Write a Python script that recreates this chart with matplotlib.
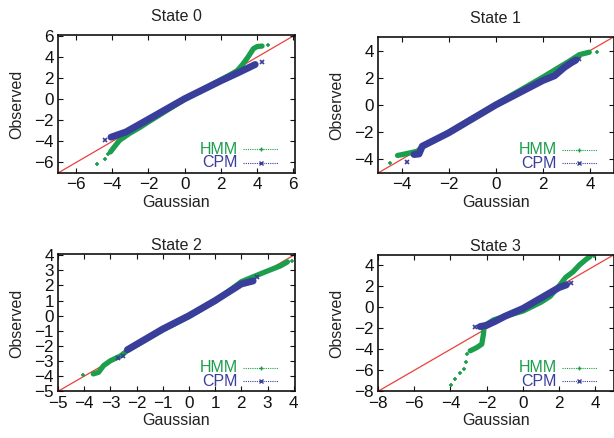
import matplotlib
matplotlib.use("Agg")
import matplotlib.pyplot as plt

plt.rcParams['font.family'] = ['Liberation Sans', 'DejaVu Sans']

# ---------------- data ----------------
titles = ["State 0", "State 1", "State 2", "State 3"]
legend_labels = ["HMM", "CPM"]

# State 0
s0_hmm_x = [-4.1, -3.9, -3.6, -3.05, -2.5, -2.0, 0.0, 2.0, 2.6, 2.9, 3.2, 3.5, 3.8, 4.0, 4.28]
s0_hmm_y = [-5.0, -4.55, -3.9, -3.25, -2.7, -2.15, 0.0, 1.85, 2.4, 2.7, 3.3, 4.0, 4.8, 5.0, 5.05]
s0_hmm_tail_x = [-4.83, -4.39, -4.22, 4.6]
s0_hmm_tail_y = [-6.1, -5.7, -5.2, 5.15]
s0_cpm_x = [-4.07, -3.24, -2.0, 0.0, 2.0, 3.0, 3.9]
s0_cpm_y = [-3.6, -3.1, -1.9, 0.05, 1.75, 2.55, 3.3]
s0_cpm_tail_x = [-4.39, 4.28]
s0_cpm_tail_y = [-3.83, 3.54]

# State 1
s1_hmm_x = [-4.17, -3.96, -3.33, -3.1, -2.0, 0.0, 2.0, 3.1, 3.55, 3.97]
s1_hmm_y = [-3.71, -3.64, -3.4, -3.05, -2.0, 0.05, 2.05, 3.2, 3.7, 3.88]
s1_hmm_tail_x = [-4.48, 4.29]
s1_hmm_tail_y = [-4.25, 3.91]
s1_cpm_x = [-3.47, -3.26, -3.12, -2.0, 0.0, 2.0, 2.5, 2.9, 3.2, 3.4]
s1_cpm_y = [-3.64, -3.6, -3.03, -2.05, 0.0, 1.8, 2.15, 2.75, 3.1, 3.3]
s1_cpm_tail_x = [-3.75, 3.55]
s1_cpm_tail_y = [-4.2, 3.4]

# State 2
s2_hmm_x = [-3.65, -3.45, -3.26, -3.0, -2.6, -2.35, -1.0, 0.0, 1.0, 2.0, 2.6, 3.0, 3.5, 3.76]
s2_hmm_y = [-3.85, -3.74, -3.3, -2.98, -2.65, -2.3, -0.95, -0.05, 0.95, 2.25, 2.68, 2.96, 3.3, 3.56]
s2_hmm_tail_x = [-4.05, 3.95]
s2_hmm_tail_y = [-3.92, 3.62]
s2_cpm_x = [-2.35, -1.0, 0.0, 1.0, 2.0, 2.45]
s2_cpm_y = [-2.25, -0.88, 0.0, 1.0, 2.1, 2.3]
s2_cpm_tail_x = [-2.69, -2.5, 2.6]
s2_cpm_tail_y = [-2.82, -2.65, 2.55]

# State 3
s3_hmm_x = [-2.91, -2.54, -2.27, -2.18, -2.14, -1.63, -1.0, 0.0, 1.0, 1.5, 2.0, 2.35, 2.77, 3.12, 3.5, 3.7]
s3_hmm_y = [-4.14, -3.82, -3.5, -2.55, -1.76, -1.2, -0.85, -0.35, 0.5, 1.05, 2.05, 2.85, 3.4, 4.05, 4.6, 4.85]
s3_hmm_tail_x = [-3.98, -3.74, -3.5, -3.28, -3.14, -3.06, 3.91]
s3_hmm_tail_y = [-7.37, -6.83, -6.26, -5.88, -5.24, -4.45, 4.9]
s3_cpm_x = [-2.37, -2.0, -1.5, -1.0, 0.0, 1.0, 2.0, 2.4]
s3_cpm_y = [-1.83, -1.7, -1.3, -0.85, -0.1, 0.9, 1.9, 2.15]
s3_cpm_tail_x = [-2.64, 2.68]
s3_cpm_tail_y = [-1.86, 2.35]

limits = [(-7, 6.1), (-5, 5), (-5, 4.05), (-8, 5)]
ticks = [list(range(-6, 7, 2)), list(range(-4, 5, 2)), list(range(-5, 5, 1)), list(range(-8, 5, 2))]

panels = [
    (s0_hmm_x, s0_hmm_y, s0_hmm_tail_x, s0_hmm_tail_y, s0_cpm_x, s0_cpm_y, s0_cpm_tail_x, s0_cpm_tail_y),
    (s1_hmm_x, s1_hmm_y, s1_hmm_tail_x, s1_hmm_tail_y, s1_cpm_x, s1_cpm_y, s1_cpm_tail_x, s1_cpm_tail_y),
    (s2_hmm_x, s2_hmm_y, s2_hmm_tail_x, s2_hmm_tail_y, s2_cpm_x, s2_cpm_y, s2_cpm_tail_x, s2_cpm_tail_y),
    (s3_hmm_x, s3_hmm_y, s3_hmm_tail_x, s3_hmm_tail_y, s3_cpm_x, s3_cpm_y, s3_cpm_tail_x, s3_cpm_tail_y),
]

# ---------------- styling ----------------
GREEN = '#1b9f4c'
BLUE = '#3a3e9b'
RED = '#e8413c'

W, H = 614, 438
fig = plt.figure(figsize=(W / 100, H / 100), dpi=100)

# axes boxes in pixels: left, top, right, bottom
boxes = [(58, 35, 295, 173), (378, 37, 613.5, 173), (58, 254.5, 295, 391.3), (378, 255, 613.5, 391.3)]
title_pads = [10, 10, 3, 3]


def fmt(v):
    return f"\u2212{abs(v)}" if v < 0 else str(v)


for i, (box, pdata) in enumerate(zip(boxes, panels)):
    l, t, r, b = box
    ax = fig.add_axes([l / W, 1 - b / H, (r - l) / W, (b - t) / H])
    hx, hy, htx, hty, cx, cy, ctx, cty = pdata
    lo, hi = limits[i]
    ax.set_xlim(lo, hi)
    ax.set_ylim(lo, hi)
    ax.axline((0, 0), slope=1, color=RED, lw=0.9, zorder=1)
    ax.plot(hx, hy, color=GREEN, lw=3.8, solid_capstyle='round', solid_joinstyle='round', zorder=2)
    ax.plot(htx, hty, ls='none', marker='+', ms=3.5, mew=1.2, color=GREEN, zorder=2)
    ax.plot(cx, cy, color=BLUE, lw=5.0, solid_capstyle='round', solid_joinstyle='round', zorder=3)
    ax.plot(ctx, cty, ls='none', marker='x', ms=3.5, mew=1.2, color=BLUE, zorder=3)

    ax.set_xticks(ticks[i])
    ax.set_yticks(ticks[i])
    ax.set_xticklabels([fmt(v) for v in ticks[i]])
    ax.set_yticklabels([fmt(v) for v in ticks[i]])
    ax.tick_params(direction='in', length=3.5, width=0.8, top=True, right=True,
                   labelsize=12.3, colors='#111111')
    ax.tick_params(axis='x', pad=3.2)
    ax.tick_params(axis='y', pad=3.0)
    for sp in ax.spines.values():
        sp.set_linewidth(1.2)
        sp.set_color('#111111')
    ax.set_title(titles[i], fontsize=11.5, pad=title_pads[i], color='#222222')
    ax.set_xlabel("Gaussian", fontsize=11.5, labelpad=1.5, color='#222222')
    ax.set_ylabel("Observed", fontsize=11.5, labelpad=7, color='#222222')

    # gnuplot-style legend: text at left, sample at right
    for lab, col, mk, yy in [(legend_labels[0], GREEN, '+', 0.172), (legend_labels[1], BLUE, 'x', 0.073)]:
        ax.text(0.76, yy, lab, transform=ax.transAxes, ha='right', va='center',
                fontsize=11.5, color=col)
        ax.plot([0.78, 0.93], [yy, yy], transform=ax.transAxes, color=col,
                lw=0.8, ls=(0, (1, 1)), zorder=4)
        ax.plot([0.855], [yy], transform=ax.transAxes, color=col, marker=mk,
                ms=3, mew=1.0, ls='none', zorder=4)

fig.savefig("out.png", dpi=100)
